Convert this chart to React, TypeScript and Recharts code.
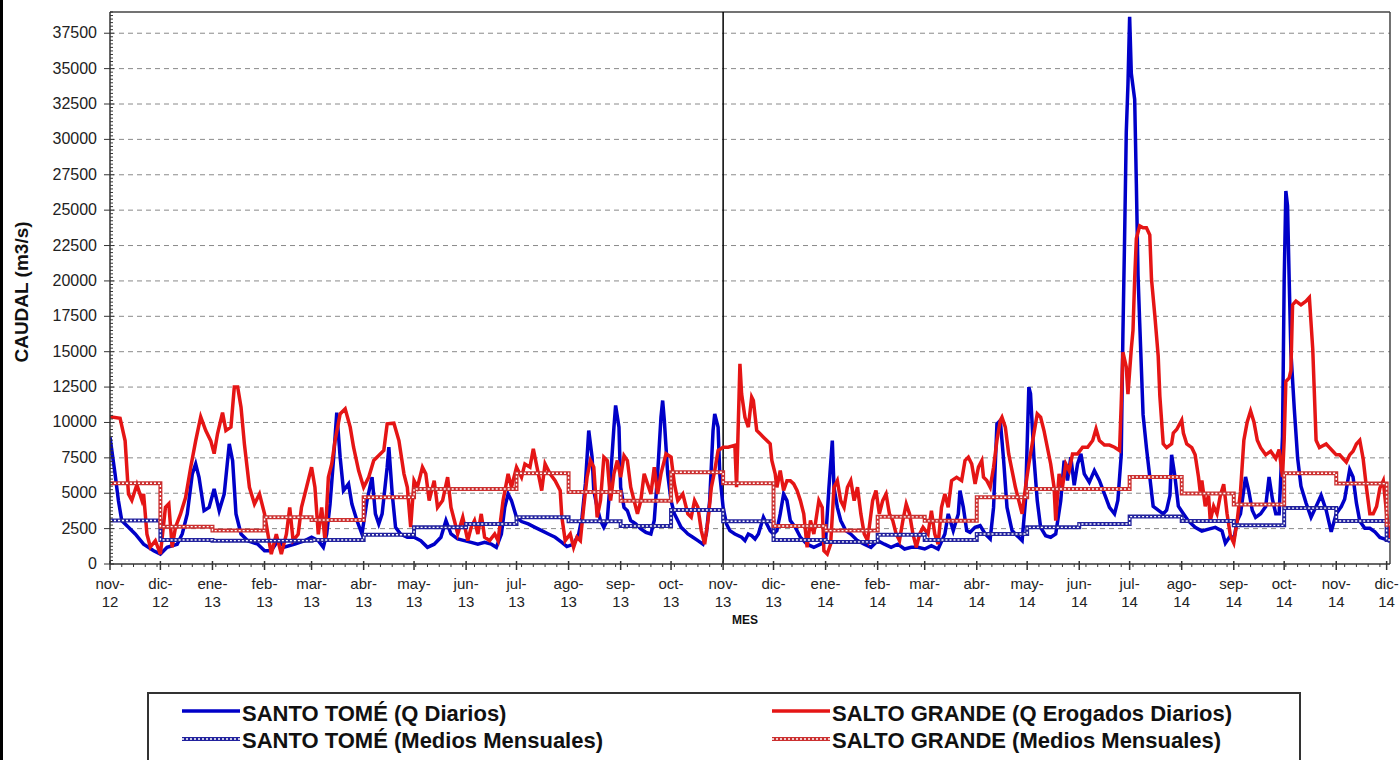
import { Line, LineChart, ReferenceLine, XAxis, YAxis } from 'recharts';

// dia 0 = 1 nov 2012
const mesDias = [0, 30, 61, 92, 120, 151, 181, 212, 242, 273, 304, 334, 365, 395, 426, 457, 485, 516, 546, 577, 607, 638, 669, 699, 730, 760];
const mesEtiquetas = [
  'nov-12', 'dic-12', 'ene-13', 'feb-13', 'mar-13', 'abr-13', 'may-13', 'jun-13', 'jul-13', 'ago-13', 'sep-13', 'oct-13',
  'nov-13', 'dic-13', 'ene-14', 'feb-14', 'mar-14', 'abr-14', 'may-14', 'jun-14', 'jul-14', 'ago-14', 'sep-14', 'oct-14',
  'nov-14', 'dic-14',
];
const caudalTicks = [0, 2500, 5000, 7500, 10000, 12500, 15000, 17500, 20000, 22500, 25000, 27500, 30000, 32500, 35000, 37500];

// medios mensuales (escalones)
const santoTomeMensual = [3070, 1700, 1650, 1650, 1700, 2070, 2590, 2830, 3300, 3020, 2690, 3820, 3020, 1700, 1560, 2070, 1700, 2120, 2590, 2830, 3350, 3040, 2730, 3950, 3040, 1700];
const saltoGrandeMensual = [5700, 2640, 2360, 3300, 3110, 4720, 5300, 5300, 6410, 5090, 4460, 6480, 5700, 2690, 2360, 3330, 3050, 4720, 5300, 5300, 6150, 4980, 4200, 6410, 5680, 2770];

// caudales diarios [dia, m3/s]
const santoTomeDiario: [number, number][] = [
  [0, 8960], [3, 6370], [5, 4480], [7, 3070], [11, 2600], [15, 2120], [20, 1400], [26, 940], [30, 700], [34, 1180], [40, 1400], [43, 2120], [46, 3540], [49, 6370], [51, 7070], [53, 6130], [56, 3770], [59, 4000], [62, 5300], [65, 3770], [68, 4950], [71, 8490], [73, 7300], [75, 3540], [78, 2120], [82, 1650], [88, 1400], [92, 940], [96, 940], [100, 1650], [104, 1200], [110, 1400], [116, 1650],
  [120, 1890], [124, 1650], [127, 1180], [129, 2120], [131, 4240], [133, 7310], [135, 10700], [137, 7550], [139, 5190], [142, 5660], [144, 4240], [147, 3070], [150, 2120], [153, 4480], [156, 6130], [158, 3540], [160, 2830], [162, 3540], [165, 6840], [166, 8250], [168, 4950], [170, 2590], [173, 2120], [177, 1890], [181, 1890], [185, 1650], [189, 1180], [193, 1400], [197, 1890], [200, 3070], [203, 2120], [207, 1770], [211, 1650], [215, 1530], [219, 1400], [223, 1530], [227, 1400], [230, 1180], [233, 2120], [235, 4000], [237, 4950], [239, 4480], [242, 3300], [245, 3000],
  [249, 2830], [253, 2590], [257, 2360], [261, 2120], [265, 1890], [269, 1530], [272, 1230], [276, 1400], [279, 2120], [281, 3300], [283, 5660], [285, 9430], [287, 7550], [288, 5190], [290, 4000], [292, 3070], [294, 2590], [296, 3070], [298, 6130], [300, 9670], [301, 11200], [303, 9670], [304, 5420], [306, 4000], [308, 3770], [310, 3070], [313, 2830], [316, 2480], [319, 2240], [322, 2120], [324, 3070], [326, 6370], [328, 10370], [329, 11550], [330, 10140], [332, 6370], [334, 4480], [336, 3540], [338, 3070], [340, 2590], [342, 2360], [344, 2120], [347, 1890], [350, 1650], [353, 1400], [355, 2120], [357, 4480], [359, 9430], [360, 10600], [362, 9670], [363, 6370], [365, 4000], [367, 2830], [369, 2360],
  [372, 2120], [376, 1890], [378, 1650], [380, 2120], [382, 2000], [384, 1770], [386, 2120], [389, 3300], [391, 2830], [393, 2360], [395, 2120], [397, 2360], [399, 3540], [401, 4950], [403, 4480], [405, 3070], [408, 2590], [411, 1890], [415, 1400], [419, 1180], [423, 1400], [426, 1650], [428, 5420], [430, 8720], [431, 5420], [433, 4000], [435, 3070], [438, 2360], [441, 2120], [445, 1650], [449, 1400], [453, 1180], [457, 1650], [461, 1400], [465, 1180], [469, 1400], [473, 1060], [477, 1180], [481, 1180], [485, 1060], [489, 1300], [493, 1060],
  [497, 2120], [499, 3540], [502, 2360], [505, 3540], [506, 5190], [508, 4000], [510, 2360], [512, 2240], [515, 2590], [518, 2710], [521, 2120], [524, 1770], [526, 4000], [528, 9900], [530, 10140], [532, 7310], [534, 4000], [537, 2360], [540, 2000], [543, 1650], [545, 4480], [547, 12500], [548, 12030], [550, 7550], [552, 4480], [554, 2590], [557, 2000], [560, 1890], [563, 2120], [566, 4480], [568, 7310], [570, 5900], [572, 7550], [574, 5560], [576, 7070], [578, 7780], [580, 6370], [583, 5780], [586, 6600], [589, 5900], [592, 4950], [595, 4000], [598, 3540],
  [600, 4500], [602, 7710], [603, 16250], [604, 23000], [605, 30500], [606, 33870], [607, 38660], [608, 34650], [610, 32830], [611, 26870], [612, 20400], [613, 17030], [615, 10550], [617, 8220], [619, 6150], [621, 4080], [624, 3800], [627, 3540], [629, 3800], [631, 4850], [632, 7710], [634, 6150], [636, 4080], [639, 3550], [642, 3040], [646, 2590], [650, 2330], [654, 2460], [658, 2590], [662, 2330], [664, 1480], [667, 2000], [669, 1740], [671, 3030], [673, 3550], [676, 6150], [678, 5110], [680, 3800], [682, 3290], [685, 3550], [688, 4060], [690, 6150], [692, 4580], [694, 3550], [696, 3550],
  [698, 9000], [699, 20000], [700, 26350], [701, 25300], [702, 20000], [703, 15000], [705, 11000], [707, 7500], [709, 5500], [712, 4320], [715, 3290], [718, 4060], [721, 4850], [724, 3800], [727, 2270], [730, 3550], [733, 4060], [735, 4580], [738, 6670], [740, 6150], [742, 4320], [744, 3030], [747, 2520], [750, 2520], [753, 2270], [756, 1880], [759, 1750], [762, 1600],
];

const saltoGrandeDiario: [number, number][] = [
  [0, 10400], [6, 10300], [9, 8700], [11, 4950], [13, 4500], [16, 5600], [19, 4500], [20, 4950], [22, 2100], [24, 1200], [27, 1650], [30, 700], [33, 4000], [35, 4250], [37, 1180], [39, 2600], [42, 3540], [45, 4700], [48, 6800], [51, 8700], [54, 10400], [57, 9430], [60, 8700], [62, 7800], [64, 9200], [67, 10700], [69, 9430], [72, 9670], [74, 12500], [76, 12500], [78, 11080], [80, 8490], [83, 5420], [86, 4240], [89, 4950], [92, 3540], [94, 2120], [96, 700], [99, 2100], [102, 700], [105, 2100], [107, 4000], [109, 1650], [112, 2100], [114, 4000], [117, 5420],
  [120, 6840], [122, 5420], [124, 2100], [126, 4000], [128, 1650], [130, 6130], [132, 7070], [134, 8720], [137, 10600], [140, 10960], [143, 9670], [145, 8250], [148, 6600], [151, 5420], [154, 6130], [157, 7310], [160, 7660], [163, 8020], [165, 9900], [169, 9950], [172, 8720], [175, 6370], [177, 5420], [179, 2600], [181, 5890], [183, 5420], [186, 6840], [188, 6370], [190, 4480], [193, 5890], [195, 4000], [198, 4480], [201, 6130], [203, 4000], [205, 3070], [207, 2120], [210, 3300], [213, 1650], [215, 2590], [217, 3070], [219, 2120], [221, 3540], [223, 1890], [226, 1650], [229, 2120], [231, 1650], [234, 4480], [237, 6370], [239, 5420], [242, 6840], [245, 6130], [247, 7070],
  [250, 6840], [252, 8130], [255, 6370], [257, 5190], [259, 7070], [262, 6370], [265, 5890], [268, 5190], [269, 3300], [271, 1650], [274, 2120], [276, 1180], [278, 1890], [280, 1650], [282, 4000], [284, 6130], [286, 7310], [288, 6840], [290, 3300], [292, 4480], [294, 7550], [296, 7310], [298, 4480], [300, 6370], [302, 7310], [304, 6130], [306, 7660], [308, 7310], [310, 5420], [312, 4480], [314, 3540], [316, 4480], [318, 6370], [320, 5660], [322, 4950], [324, 6840], [326, 4950], [328, 6370], [331, 7780], [334, 7550], [336, 5660], [338, 4480], [341, 4950], [344, 3540], [346, 3300], [348, 4480], [350, 4000], [352, 2360], [354, 1400], [356, 3070], [358, 5420], [360, 6600], [362, 8020], [365, 8250], [368, 8250],
  [372, 8380], [373, 5420], [375, 14150], [376, 12030], [378, 10370], [380, 9670], [382, 11790], [383, 11550], [385, 9430], [387, 9200], [389, 8960], [391, 8720], [393, 8490], [394, 7310], [396, 6370], [397, 5420], [399, 6600], [401, 5190], [403, 5890], [405, 5890], [407, 5660], [409, 5190], [411, 4480], [413, 3540], [415, 1180], [417, 3070], [419, 2120], [422, 4480], [424, 4000], [425, 940], [427, 700], [429, 1400], [431, 5420], [433, 5890], [435, 4480], [437, 4000], [439, 5420], [441, 5890], [443, 4480], [445, 5420], [447, 3540], [449, 2120], [451, 1650], [454, 4480], [456, 5190], [458, 3540], [460, 4480], [462, 4950], [464, 3540], [466, 3070], [468, 2120], [470, 1650], [472, 3070], [474, 4240], [476, 3540], [478, 2120], [480, 1180], [482, 2120], [484, 2590], [487, 2120], [489, 3770], [491, 2120], [493, 1400], [495, 4000], [497, 4950],
  [499, 4000], [501, 5890], [504, 6130], [507, 5890], [509, 7310], [511, 7550], [513, 7070], [515, 5660], [517, 6840], [519, 7310], [520, 6130], [522, 5890], [524, 5420], [526, 6840], [528, 8720], [530, 10140], [531, 10370], [533, 9670], [535, 7780], [537, 6600], [539, 5420], [541, 4480], [543, 3540], [545, 5420], [547, 7070], [550, 9200], [552, 10610], [554, 10370], [556, 9430], [558, 8250], [560, 7070], [562, 5420], [563, 3070], [565, 6370], [567, 5420], [569, 7070], [571, 6600], [573, 7780], [576, 7780], [579, 8250], [582, 8250], [585, 8720], [587, 9550], [589, 8720], [592, 8400], [595, 8400], [598, 8250], [601, 8020],
  [602, 11330], [603, 14960], [605, 13920], [606, 12000], [608, 15220], [609, 16510], [610, 20140], [611, 22990], [613, 23890], [615, 23760], [617, 23760], [619, 23250], [620, 20140], [622, 17550], [624, 14700], [625, 11850], [627, 8490], [629, 8220], [632, 8490], [633, 9250], [635, 9500], [638, 10160], [639, 9250], [641, 8480], [644, 8220], [646, 7710], [648, 6150], [649, 5110], [650, 5900], [652, 4080], [654, 4840], [655, 3040], [657, 4080], [659, 3550], [661, 4840], [663, 5630], [665, 3550], [667, 2000], [669, 1490], [671, 3030], [673, 5110], [675, 8740], [677, 10030], [679, 10810], [681, 10030], [683, 8740], [685, 8220], [688, 7710], [691, 7970], [694, 7450], [696, 8090], [698, 6150],
  [699, 8740], [700, 12890], [702, 13150], [703, 13660], [704, 18310], [706, 18570], [709, 18310], [712, 18570], [714, 18830], [716, 15210], [718, 8740], [720, 8220], [722, 8350], [724, 8480], [726, 8220], [728, 7970], [730, 7710], [732, 7710], [734, 7450], [736, 7200], [738, 7710], [740, 7970], [742, 8480], [744, 8740], [746, 7450], [748, 5370], [750, 3550], [752, 3550], [754, 4060], [756, 5370], [758, 5880], [760, 3550], [762, 1750],
];

const FONT = '"Liberation Sans", Arial, sans-serif';
const AZUL = '#0000c8';
const ROJO = '#e51515';
const AZUL_MED = '#22229e';
const ROJO_MED = '#cc3030';
const DIA_MAX = 762;
const CAUDAL_MAX = 39000;

const diarios = (pts: [number, number][]) => pts.map(([dia, q]) => ({ dia, q }));
const mensual = (vals: number[]) => [
  ...mesDias.map((dia, i) => ({ dia, q: vals[i] })),
  { dia: DIA_MAX, q: vals[vals.length - 1] },
];

// marcas menores: semanales en X, cada 250 en Y
const semanas = Array.from({ length: 109 }, (_, i) => i * 7).filter(d => !mesDias.includes(d));
const xTicks = [...mesDias, ...semanas].sort((a, b) => a - b);
const yMenores = Array.from({ length: 157 }, (_, i) => i * 250);

function MesTick({ x, y, payload }: any) {
  const i = mesDias.indexOf(payload.value);
  if (i < 0) return <line x1={x} x2={x} y1={y} y2={y + 3} stroke='#333' />;
  const [m, a] = mesEtiquetas[i].split('-');
  return (
    <g>
      <line x1={x} x2={x} y1={y - 3} y2={y + 6} stroke='#333' strokeWidth={1.5} />
      <text x={x} y={y + 25} textAnchor='middle' fontSize={15} fill='#222' fontFamily={FONT}>
        {m}-
      </text>
      <text x={x} y={y + 43} textAnchor='middle' fontSize={15} fill='#222' fontFamily={FONT}>
        {a}
      </text>
    </g>
  );
}

function CaudalTick({ x, y, payload }: any) {
  const v = payload.value;
  const mayor = v % 2500 === 0 && v <= 37500;
  return (
    <g>
      <line x1={mayor ? x - 6 : x} x2={x + (mayor ? 4 : 3)} y1={y} y2={y} stroke='#333' />
      {mayor && (
        <text x={x - 13} y={y + 5} textAnchor='end' fontSize={16} fill='#222' fontFamily={FONT}>
          {v}
        </text>
      )}
    </g>
  );
}

function Muestra({ x, y, color, medio }: { x: number; y: number; color: string; medio?: boolean }) {
  if (!medio) return <line x1={x} x2={x + 58} y1={y} y2={y} stroke={color} strokeWidth={3.5} />;
  return (
    <g>
      <line x1={x} x2={x + 58} y1={y} y2={y} stroke={color} strokeWidth={4} />
      <line x1={x} x2={x + 58} y1={y} y2={y} stroke='#fff' strokeWidth={1.4} strokeDasharray='2 2' />
    </g>
  );
}

export default function App() {
  return (
    <div
      style={{
        position: 'absolute',
        left: 0,
        top: 0,
        width: 1399,
        height: 760,
        background: '#fff',
        overflow: 'hidden',
        fontFamily: FONT,
      }}
    >
      <div style={{ position: 'absolute', left: 0, top: 0, width: 3, height: 760, background: '#000' }} />
      <LineChart width={1399} height={760} margin={{ top: 12, right: 9, bottom: 136, left: 0 }}>
        <XAxis
          dataKey='dia'
          type='number'
          domain={[0, DIA_MAX]}
          ticks={xTicks}
          interval={0}
          tick={<MesTick />}
          tickLine={false}
          tickSize={0}
          tickMargin={0}
          height={60}
          allowDataOverflow
          axisLine={{ stroke: '#333', strokeWidth: 1.5 }}
        />
        <YAxis
          type='number'
          domain={[0, CAUDAL_MAX]}
          ticks={yMenores}
          interval={0}
          tick={<CaudalTick />}
          tickLine={false}
          tickSize={0}
          tickMargin={0}
          width={110}
          allowDataOverflow
          axisLine={{ stroke: '#333', strokeWidth: 1.5 }}
        />
        {caudalTicks.slice(1).map(v => (
          <ReferenceLine key={v} y={v} stroke='#8a8a8a' strokeDasharray='5 4' />
        ))}
        <ReferenceLine y={CAUDAL_MAX} stroke='#444' strokeWidth={1.5} />
        <ReferenceLine x={DIA_MAX} stroke='#444' strokeWidth={1.5} />
        <ReferenceLine x={365} stroke='#000' strokeWidth={1.5} />
        <Line
          data={diarios(santoTomeDiario)}
          dataKey='q'
          type='linear'
          stroke={AZUL}
          strokeWidth={3.5}
          dot={false}
          isAnimationActive={false}
        />
        <Line
          data={diarios(saltoGrandeDiario)}
          dataKey='q'
          type='linear'
          stroke={ROJO}
          strokeWidth={3.5}
          dot={false}
          isAnimationActive={false}
        />
        <Line data={mensual(santoTomeMensual)} dataKey='q' type='stepAfter' stroke={AZUL_MED} strokeWidth={4} dot={false} isAnimationActive={false} />
        <Line data={mensual(santoTomeMensual)} dataKey='q' type='stepAfter' stroke='#fff' strokeWidth={1.4} strokeDasharray='2 2' dot={false} isAnimationActive={false} />
        <Line data={mensual(saltoGrandeMensual)} dataKey='q' type='stepAfter' stroke={ROJO_MED} strokeWidth={4} dot={false} isAnimationActive={false} />
        <Line data={mensual(saltoGrandeMensual)} dataKey='q' type='stepAfter' stroke='#fff' strokeWidth={1.4} strokeDasharray='2 2' dot={false} isAnimationActive={false} />
      </LineChart>

      <div
        style={{
          position: 'absolute',
          left: 22,
          top: 292,
          transform: 'translate(-50%, -50%) rotate(-90deg)',
          whiteSpace: 'nowrap',
          fontWeight: 'bold',
          fontSize: 19,
          color: '#111',
        }}
      >
        CAUDAL (m3/s)
      </div>
      <div
        style={{
          position: 'absolute',
          left: 745,
          top: 620,
          transform: 'translate(-50%, -50%)',
          fontWeight: 'bold',
          fontSize: 12,
          color: '#111',
        }}
      >
        MES
      </div>

      <svg width={1399} height={760} style={{ position: 'absolute', left: 0, top: 0 }}>
        <rect x={148} y={693} width={1152} height={90} fill='none' stroke='#333' strokeWidth={2} />
        <Muestra x={182} y={711} color={AZUL} />
        <Muestra x={182} y={739} color={AZUL_MED} medio />
        <Muestra x={772} y={711} color={ROJO} />
        <Muestra x={772} y={739} color={ROJO_MED} medio />
        <g fontFamily={FONT} fontWeight='bold' fontSize={22} fill='#111'>
          <text x={242} y={721}>SANTO TOMÉ (Q Diarios)</text>
          <text x={242} y={748}>SANTO TOMÉ (Medios Mensuales)</text>
          <text x={832} y={721}>SALTO GRANDE (Q Erogados Diarios)</text>
          <text x={832} y={748}>SALTO GRANDE (Medios Mensuales)</text>
        </g>
      </svg>
    </div>
  );
}
